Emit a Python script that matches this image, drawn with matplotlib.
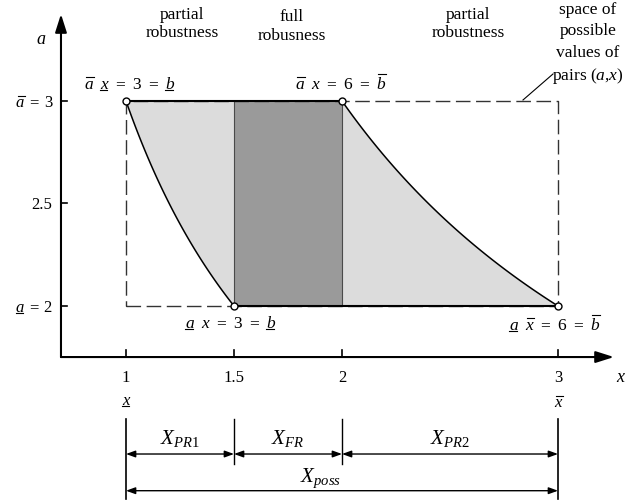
import numpy as np
import matplotlib

matplotlib.use("Agg")
import matplotlib.pyplot as plt
from matplotlib.lines import Line2D
from matplotlib.transforms import IdentityTransform

W, H = 632, 502

plt.rcParams.update({
    "font.family": "Liberation Serif",
    "mathtext.fontset": "custom",
    "mathtext.rm": "Liberation Serif",
    "mathtext.it": "Liberation Serif:italic",
    "mathtext.bf": "Liberation Serif:bold",
})

# interval bounds of x and a, and the products b = a*x
X_TICKS = [1, 1.5, 2, 3]
X_TICK_LABELS = ["1", "1.5", "2", "3"]
A_TICKS = [2, 2.5, 3]
X_LO, X_FR_LO, X_FR_HI, X_HI = 1, 1.5, 2, 3
A_LO, A_HI = 2, 3
B_LO, B_HI = 3, 6

LIGHT = "#dcdcdc"
DARK = "#9a9a9a"

fig = plt.figure(figsize=(W / 100, H / 100), dpi=100)
ax = fig.add_axes([0, 0, 1, 1])
ax.set_xlim(0.41667, 3.34259)
ax.set_ylim(1.04878, 3.49756)
ax.axis("off")

# axes origin (below/left of the plotted box)
X0, A0 = 0.699, 1.751


def italic_of(s, parts):
    return any(p[0] == s and p[1] for p in parts)


def rich(parts, x, y, size=12.5, ha="center", gap=0.42):
    """Lay out text pieces on one baseline; pieces may carry an over/underline."""
    r = fig.canvas.get_renderer()
    em = size * fig.dpi / 72
    items = []
    for s, italic, deco in parts:
        t = fig.text(0, 0, s, fontsize=size, fontstyle="italic" if italic else "normal",
                     transform=IdentityTransform(), va="baseline", ha="left")
        items.append((t, t.get_window_extent(r).width, s, deco))
    g = gap * em
    total = sum(w for _, w, _, _ in items) + g * (len(items) - 1)
    x0 = x - total / 2 if ha == "center" else x - total
    y0 = H - y
    for t, w, s, deco in items:
        t.set_position((x0, y0))
        if deco:
            if deco == "over":
                dy = (0.80 if s in "bdfhklt" else 0.62) * em
            else:
                dy = -0.13 * em
            sl = 0.12 * em if italic_of(s, parts) else 0
            fig.add_artist(Line2D([x0 + sl * (dy > 0), x0 + w + sl * (dy > 0) - 1],
                                  [y0 + dy] * 2, transform=IdentityTransform(),
                                  color="k", lw=0.8))
        x0 += w + g


# shaded regions
xl = np.linspace(X_LO, X_FR_LO, 60)
xr = np.linspace(X_FR_HI, X_HI, 60)
poly_x = np.concatenate([xl, [X_HI], xr[::-1], [X_LO]])
poly_a = np.concatenate([B_LO / xl, [A_LO], B_HI / xr[::-1], [A_HI]])
ax.fill(poly_x, poly_a, color=LIGHT, lw=0, zorder=1)
ax.fill([X_FR_LO, X_FR_HI, X_FR_HI, X_FR_LO], [A_LO, A_LO, A_HI, A_HI],
        color=DARK, lw=0, zorder=2)
for xv in (X_FR_LO, X_FR_HI):
    ax.plot([xv, xv], [A_LO, A_HI], color="#4a4a4a", lw=0.8, zorder=3)

# dashed box of possible (a, x) pairs
ax.plot([X_LO, X_HI, X_HI, X_LO, X_LO], [A_LO, A_LO, A_HI, A_HI, A_LO],
        color="#333333", lw=1.0, dashes=(10.5, 4), zorder=2)

# boundaries
ax.plot(xl, B_LO / xl, color="k", lw=1.1, zorder=4)
ax.plot(xr, B_HI / xr, color="k", lw=1.1, zorder=4)
ax.plot([X_LO, X_FR_HI], [A_HI, A_HI], color="k", lw=1.5, zorder=4)
ax.plot([X_FR_LO, X_HI], [A_LO, A_LO], color="k", lw=1.5, zorder=4)
ax.plot([X_LO, X_FR_HI, X_FR_LO, X_HI], [A_HI, A_HI, A_LO, A_LO], "o", ms=5,
        mfc="white", mec="k", mew=1.0, zorder=5)

# axes with arrow heads
head = dict(arrowstyle="-|>,head_length=1.1,head_width=0.35", mutation_scale=10,
            color="k", lw=1.5, shrinkA=0, shrinkB=0)
ax.annotate("", xy=(3.259, A0), xytext=(X0, A0), arrowprops=head)
ax.annotate("", xy=(X0, 3.424), xytext=(X0, A0), arrowprops=head)
for av in A_TICKS:
    ax.plot([X0, X0 + 0.028], [av, av], color="k", lw=1.2)
for xv in X_TICKS:
    ax.plot([xv, xv], [A0, A0 + 0.033], color="k", lw=1.2)

# tick labels
for xv, lab in zip(X_TICKS, X_TICK_LABELS):
    dx, _ = ax.transData.transform((xv, A0))
    fig.text(dx, H - 382, lab, fontsize=12, ha="center", va="baseline",
             transform=IdentityTransform())
fig.text(52, H - 209.5, "2.5", fontsize=12, ha="right", va="baseline",
         transform=IdentityTransform())
rich([("a", True, "over"), ("=", False, None), ("3", False, None)], 52, 107.5,
     size=12, ha="right", gap=0.3)
rich([("a", True, "under"), ("=", False, None), ("2", False, None)], 52, 312,
     size=12, ha="right", gap=0.3)
rich([("x", True, "under")], 126, 405, size=12)
rich([("x", True, "over")], 558, 407, size=12)
fig.text(41, H - 44, "a", fontsize=13, fontstyle="italic", ha="center",
         va="baseline", transform=IdentityTransform())
fig.text(620, H - 382, "x", fontsize=13, fontstyle="italic", ha="center",
         va="baseline", transform=IdentityTransform())

# corner equations
rich([("a", True, "over"), ("x", True, "under"), ("=", False, None),
      ("3", False, None), ("=", False, None), ("b", True, "under")], 129, 89)
rich([("a", True, "over"), ("x", True, None), ("=", False, None),
      ("6", False, None), ("=", False, None), ("b", True, "over")], 340, 89)
rich([("a", True, "under"), ("x", True, None), ("=", False, None),
      ("3", False, None), ("=", False, None), ("b", True, "under")], 230, 328)
rich([("a", True, "under"), ("x", True, "over"), ("=", False, None),
      ("6", False, None), ("=", False, None), ("b", True, "over")], 554, 330)

# region captions
for cx, lines, base in [(182, ["partial", "robustness"], (19, 37)),
                        (292, ["full", "robusness"], (21, 40)),
                        (468, ["partial", "robustness"], (19, 37))]:
    for s, b in zip(lines, base):
        fig.text(cx, H - b, s, fontsize=12.5, ha="center", va="baseline",
                 transform=IdentityTransform())
for s, b in zip(["space of", "possible", "values of", r"pairs ($a$,$x$)"],
                (14, 35, 57, 80)):
    fig.text(588, H - b, s, fontsize=12.5, ha="center", va="baseline",
             transform=IdentityTransform())
ax.plot([2.838, 2.977], [3.005, 3.132], color="k", lw=0.8)

# interval dimensions along x
A_TOP, A_MID, A_BOT = 1.449, 1.229, 1.0585
A_ROW1, A_ROW2 = 1.278, 1.099
for xv in (X_LO, X_HI):
    ax.plot([xv, xv], [A_TOP, A_BOT], color="k", lw=1.2)
for xv in (X_FR_LO, X_FR_HI):
    ax.plot([xv, xv], [A_TOP, A_MID], color="k", lw=1.0)
dim = dict(arrowstyle="<|-|>,head_length=0.55,head_width=0.2", mutation_scale=10,
           color="k", lw=1.0, shrinkA=0, shrinkB=0)
for x1, x2 in [(X_LO, X_FR_LO), (X_FR_LO, X_FR_HI), (X_FR_HI, X_HI)]:
    ax.annotate("", xy=(x2, A_ROW1), xytext=(x1, A_ROW1), arrowprops=dim)
ax.annotate("", xy=(X_HI, A_ROW2), xytext=(X_LO, A_ROW2), arrowprops=dim)
for xc, lab in [((X_LO + X_FR_LO) / 2, r"$X_{PR1}$"),
                ((X_FR_LO + X_FR_HI) / 2, r"$X_{FR}$"),
                ((X_FR_HI + X_HI) / 2, r"$X_{PR2}$")]:
    ax.text(xc, 2 - (444 - 307) / 205, lab, fontsize=15, ha="center", va="baseline")
fig.text(320, H - 482, r"$X_{poss}$", fontsize=15, ha="center", va="baseline",
         transform=IdentityTransform())

fig.savefig("out.png", dpi=100)
